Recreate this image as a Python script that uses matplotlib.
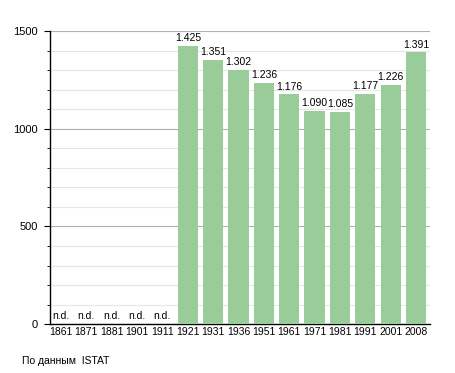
import matplotlib.pyplot as plt
import numpy as np

years = ["1861", "1871", "1881", "1901", "1911", "1921", "1931", "1936",
         "1951", "1961", "1971", "1981", "1991", "2001", "2008"]
population = [None, None, None, None, None, 1425, 1351, 1302,
              1236, 1176, 1090, 1085, 1177, 1226, 1391]
value_labels = ["n.d.", "n.d.", "n.d.", "n.d.", "n.d.", "1.425", "1.351", "1.302",
                "1.236", "1.176", "1.090", "1.085", "1.177", "1.226", "1.391"]

plt.rcParams["font.family"] = ["Liberation Sans", "DejaVu Sans"]

fig = plt.figure(figsize=(4.55, 3.73), dpi=100)
ax = fig.add_axes([0.11, 0.131, 0.835, 0.786])

x = np.arange(len(years))
heights = [v if v is not None else 0 for v in population]
ax.bar(x, heights, width=0.8, color="#99cc99", zorder=3)

for xi, v, lab in zip(x, population, value_labels):
    if v is None:
        ax.text(xi, 15, lab, ha="center", va="bottom", fontsize=7.5, zorder=4)
    else:
        ax.text(xi, v + 14, lab, ha="center", va="bottom", fontsize=7.5, zorder=4)

ax.set_xlim(-0.43, len(years) - 0.45)
ax.set_ylim(0, 1500)
ax.set_yticks([0, 500, 1000, 1500])
ax.set_yticks(np.arange(100, 1500, 100), minor=True)
ax.set_xticks(x)
ax.set_xticklabels(years, fontsize=7.5)
ax.tick_params(axis="x", length=0, pad=2)
ax.tick_params(axis="y", which="major", labelsize=8, length=4, direction="out", pad=5)
ax.tick_params(axis="y", which="minor", length=2, direction="out")

ax.grid(True, axis="y", which="minor", color="#e6e6e6", lw=0.8, zorder=0)
ax.grid(True, axis="y", which="major", color="#b0b0b0", lw=0.8, zorder=0)

for side in ["top", "right"]:
    ax.spines[side].set_visible(False)
ax.spines["left"].set_linewidth(1.0)
ax.spines["bottom"].set_linewidth(1.0)

fig.text(22 / 455, 1 - 361 / 373, "По данным  ISTAT", fontsize=7.5, va="center")

fig.savefig("out.png", dpi=100)
